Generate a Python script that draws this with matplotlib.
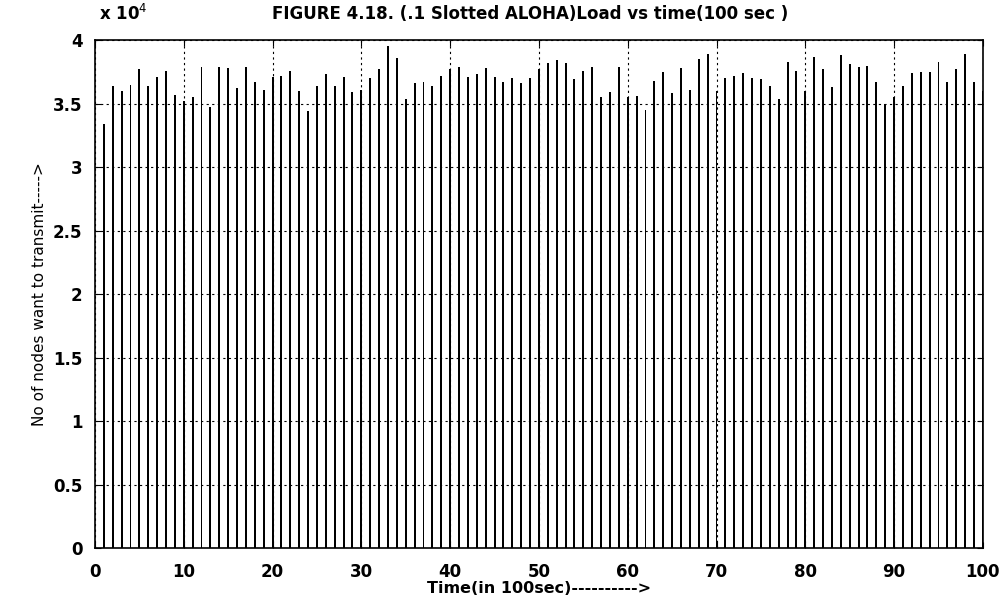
import numpy as np
import matplotlib
matplotlib.use("Agg")
import matplotlib.pyplot as plt

plt.rcParams['font.family'] = ['DejaVu Sans']

# time slots (in 100 sec)
time_slots = list(range(1, 101))

# number of nodes that want to transmit in each slot
nodes_load = [
    33400, 36400, 36000, 36500, 37700, 36400, 37100, 37600, 35700, 35200,
    35500, 37900, 34700, 37900, 37800, 36200, 37900, 36700, 36100, 37100,
    37200, 37600, 36000, 34400, 36400, 37300, 36400, 37100, 35900, 36100,
    37000, 37700, 39500, 38600, 35400, 36600, 36700, 36400, 37200, 37700,
    37900, 37100, 37300, 37800, 37100, 36700, 37000, 36600, 37000, 37700,
    38200, 38400, 38200, 36900, 37600, 37900, 35500, 35900, 37900, 35500,
    35600, 34500, 36800, 37500, 35800, 37800, 36100, 38500, 38900, 36000,
    37000, 37200, 37400, 37000, 36900, 36400, 35400, 38300, 37600, 36000,
    38700, 37700, 36300, 38800, 38100, 37900, 38000, 36700, 35000, 35500,
    36400, 37400, 37500, 37500, 38300, 36700, 37700, 38900, 36700, 36000,
]

x_ticks = list(range(0, 101, 10))
y_ticks = [0, 0.5, 1, 1.5, 2, 2.5, 3, 3.5, 4]

fig = plt.figure(figsize=(10.05, 5.99), dpi=100)
ax = fig.add_axes([0.0945, 0.085, 0.8835, 0.848])

t = np.array(time_slots)
load = np.array(nodes_load) / 1e4
ax.bar(t, load, width=0.22, color='black', linewidth=0, zorder=2)

ax.set_xlim(0, 100)
ax.set_ylim(0, 4)
ax.set_xticks(x_ticks)
ax.set_yticks(y_ticks)
ax.set_yticklabels(['0', '0.5', '1', '1.5', '2', '2.5', '3', '3.5', '4'])

ax.grid(True, color='black', linestyle=(0, (2, 3)), linewidth=0.8, zorder=3)
ax.set_axisbelow(False)
ax.tick_params(direction='in', top=True, right=True, length=4, labelsize=12)
ax.tick_params(axis='x', pad=11)
ax.tick_params(axis='y', pad=9)
for lab in ax.get_xticklabels() + ax.get_yticklabels():
    lab.set_fontweight('bold')
for s in ax.spines.values():
    s.set_linewidth(1.2)

ax.set_xlabel('Time(in 100sec)---------->', fontsize=11.5, fontweight='bold', labelpad=0)
ax.set_ylabel('No of nodes want to transmit----->', fontsize=11, labelpad=4)
ax.set_title('FIGURE 4.18. (.1 Slotted ALOHA)Load vs time(100 sec )',
             fontsize=12, fontweight='bold', pad=15, x=0.49)
fig.text(0.099, 0.976, r'x 10$^4$', fontsize=12, fontweight='bold', ha='left', va='center')

fig.savefig('out.png', dpi=100)
